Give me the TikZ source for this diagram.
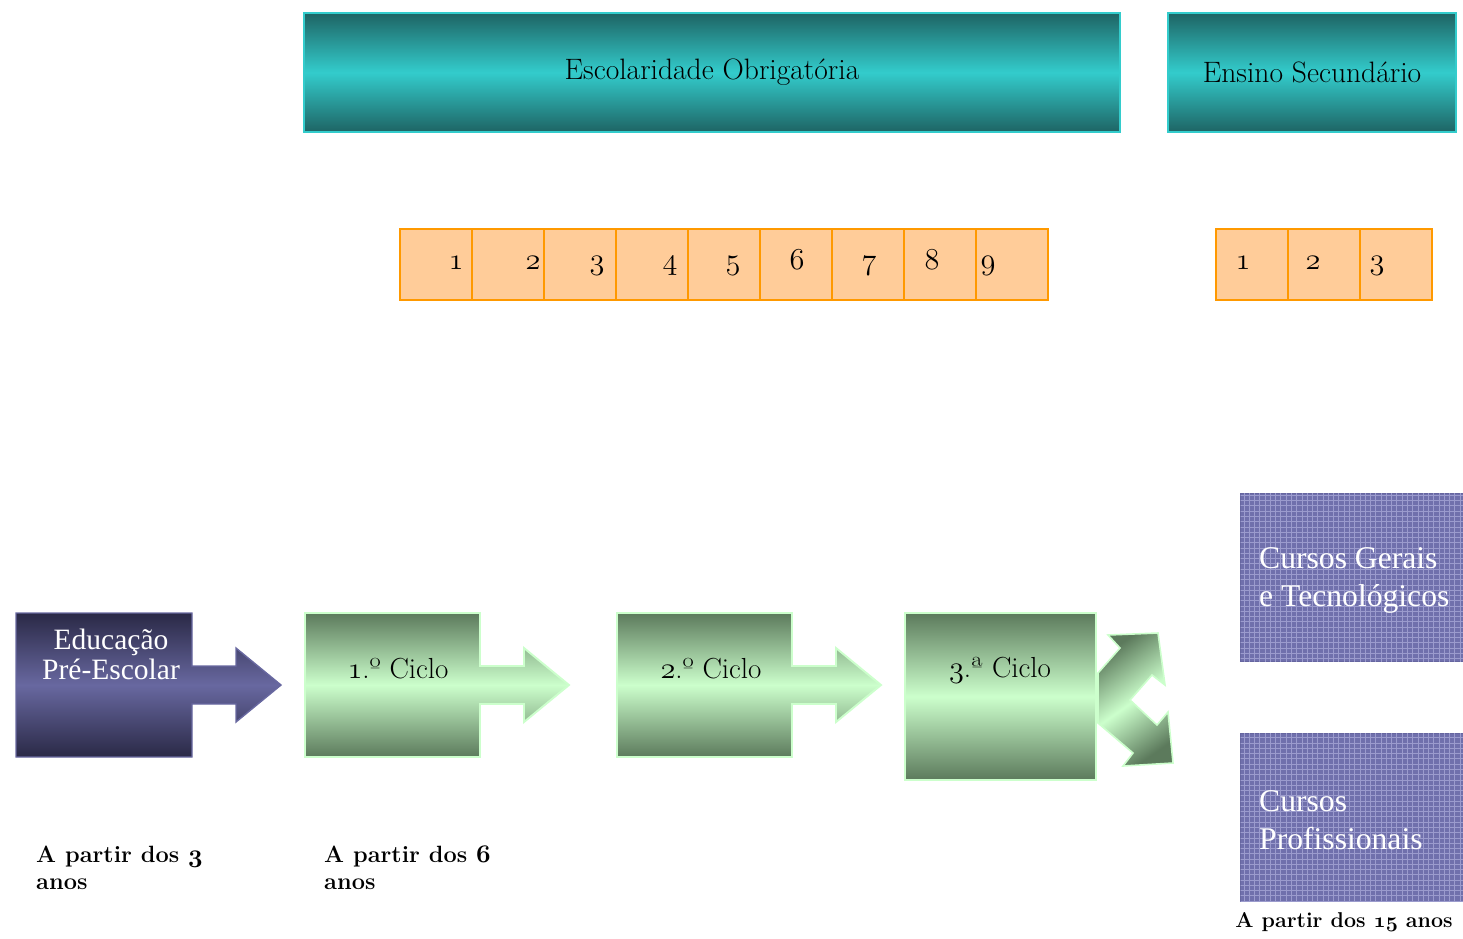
\documentclass[tikz,border=0pt]{standalone}
\usepackage{fontspec}
\newfontfamily\timesfont{Liberation Serif}
\usetikzlibrary{patterns}
\definecolor{tealDark}{RGB}{30,100,100}
\definecolor{tealLight}{RGB}{51,204,204}
\definecolor{cellFill}{RGB}{255,204,153}
\definecolor{cellLine}{RGB}{255,153,0}
\definecolor{preDark}{RGB}{42,41,70}
\definecolor{preLight}{RGB}{104,104,160}
\definecolor{cycDark}{RGB}{92,122,92}
\definecolor{cycLight}{RGB}{204,255,204}
\definecolor{courseFill}{RGB}{112,112,172}
\definecolor{courseGrid}{RGB}{155,155,205}
\definecolor{courseLine}{RGB}{102,102,160}
% old style figures from the math italic font
\newcommand\osf[1]{{\usefont{OML}{cmm}{m}{it}#1}}
\newcommand\osfb[1]{{\usefont{OML}{cmm}{b}{it}#1}}

\begin{document}
\begin{tikzpicture}[x=0.02cm, y=-0.02cm,
    band/.style={draw=tealLight, line width=0.9pt, top color=tealDark,
      bottom color=tealDark, middle color=tealLight,
      minimum height=2.38cm, font=\fontsize{16.8}{19}\selectfont},
    cell/.style={draw=cellLine, fill=cellFill, line width=1.1pt,
      minimum width=1.44cm, minimum height=1.42cm},
    num/.style={font=\fontsize{18.5}{20}\selectfont, inner sep=0pt},
    prebox/.style={draw=preLight, line width=0.8pt, top color=preDark,
      bottom color=preDark, middle color=preLight},
    cycbox/.style={draw=cycLight, line width=1.1pt, top color=cycDark,
      bottom color=cycDark, middle color=cycLight},
    cyctext/.style={font=\fontsize{16.5}{19}\selectfont},
    course/.style={draw=courseLine, line width=0.8pt, fill=courseFill,
      postaction={pattern=grid, pattern color=courseGrid},
      minimum width=4.46cm, minimum height=3.36cm, anchor=north west},
    coursetext/.style={text=white, align=left, anchor=west,
      font=\timesfont\fontsize{18}{21.6}\selectfont},
    age/.style={align=left, font=\bfseries\fontsize{13.4}{15.4}\selectfont}
  ]
  \useasboundingbox (0,0) rectangle (1463,938);

  % headers
  \node[band, minimum width=16.32cm] (oblig) at (712,72.5) {Escolaridade Obrigatória};
  \node[band, minimum width=5.76cm] (secund) at (1312,72.5) {Ensino Secundário};

  % school years
  \foreach \i/\nx in {1/456,2/533,3/597,4/670,5/733,6/797,7/869,8/932,9/988} {
    \node[cell] (c\i) at ({364+72*\i},264.5) {};
    \node[num, anchor=base] (n\i) at (\nx,269) {\osf{\i}};
  }
  \foreach \i/\nx in {1/1243,2/1313,3/1377} {
    \node[cell] (s\i) at ({1180+72*\i},264.5) {};
    \node[num, anchor=base] (sn\i) at (\nx,269) {\osf{\i}};
  }

  % pre-school
  \path[prebox] (16,613) -- (192,613) -- (192,666) -- (236,666) -- (236,648)
    -- (281,685) -- (236,722) -- (236,704) -- (192,704) -- (192,757)
    -- (16,757) -- cycle;
  \node[text=white, align=center, font=\timesfont\fontsize{16.8}{17}\selectfont]
    (pre) at (111,654) {Educação\\Pré-Escolar};

  % first and second cycle
  \foreach \dx in {289,601} {
    \path[cycbox, xshift=\dx*0.02cm] (16,613) -- (191,613) -- (191,666)
      -- (235,666) -- (235,648) -- (280,685) -- (235,722) -- (235,704)
      -- (191,704) -- (191,757) -- (16,757) -- cycle;
  }
  \node[cyctext] (cyc1) at (398,669) {\osf{1}.º Ciclo};
  \node[cyctext] (cyc2) at (711,669) {\osf{2}.º Ciclo};

  % third cycle
  \path[cycbox] (905,613) rectangle (1096,780);
  \node[cyctext] (cyc3) at (1000,670) {\osf{3}.ª Ciclo};
  \path[cycbox, line width=0.9pt, shading angle=35] (1098,673) -- (1120,648)
    -- (1108,635) -- (1158,633) -- (1165,685) -- (1152,675) -- (1130,700)
    -- (1157,725) -- (1168,712) -- (1173,763) -- (1123,766) -- (1133,753)
    -- (1098,723) -- cycle;

  % upper secondary courses
  \node[course] (gerais) at (1240,493) {};
  \node[coursetext] (geraistxt) at (1253,580) {Cursos Gerais\\e Tecnológicos};
  \node[course] (prof) at (1240,733) {};
  \node[coursetext] (proftxt) at (1253,820) {Cursos\\Profissionais};

  % ages
  \node[age, anchor=north west] (age3) at (30,840) {A partir dos \osfb{3}\\anos};
  \node[age, anchor=north west] (age6) at (318,840) {A partir dos \osfb{6}\\anos};
  \node[age, font=\bfseries\fontsize{12.2}{14}\selectfont] (age15) at (1344,922)
    {A partir dos \osfb{15} anos};
\end{tikzpicture}
\end{document}
